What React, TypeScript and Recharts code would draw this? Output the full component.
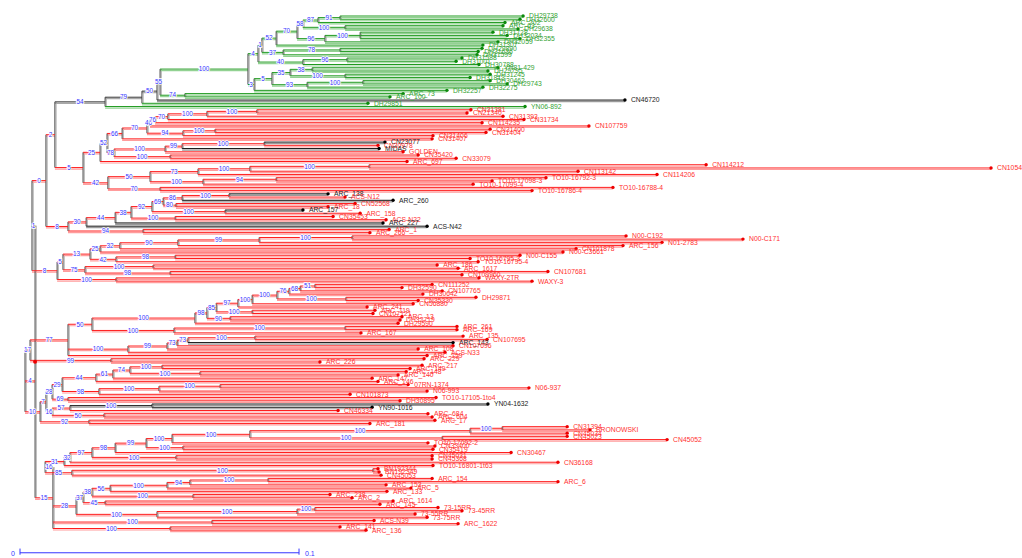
import React from 'react';
import { ComposedChart, Line, Scatter, XAxis, YAxis } from 'recharts';

// ---------------- DATA (Newick-like: label:distance-from-root) ----------------
const GREEN_CLADE = `
(
 (
  (
   (
    (
     (
      (
       (
        (
         (
          (
           (DH29738:.1803,DH32600:.1792)91:.1147,
           ARC_202:.1738
          )87:.1068,
          (ARC_63:.1731,DH29638:.1785)100:.1165
         )58:.1014,
         (
          (DH31728:.1695,DH32034:.1746,DH32355:.1792)100:.1219,
          DH32059:.1713
         )96:.1093
        )70:.0993,
        DH31307:.1659
       )52:.0918,
       (
        (DH29890:.1656,DH31636:.1642)78:.1147,
        DH31599:.1638
       )37:.0943
      )1:.0867,
      (
       (DH31588:.1584,DH31001:.1563)96:.1172,
       DH30788:.1645
      )40:.1014
     )4:.0853,
     (
      (
       (
        (YN81-429:.1713,DH29795:.1677)38:.1047,
        (DH31245:.1685,DH31813:.1613)100:.1165
       )35:.0968,
       (
        (DH30462:.1685,DH29743:.1746)100:.1229,
        DH32275:.1659
       )93:.1029
      )5:.0903,
      DH32257:.1530
     )3:.0839
    )100:.0817,
    (ARC_73:.1373,ARC_100:.1326)74:.0591
   )55:.0502,
   CN46720:.2168
  )50:.0491,
  DH29851:.1247
 )79:.0437,
 YN06-892:.1810
)54:.0305`;

const RED_CLADE_A = `
(
 (
  (
   (
    (
     (
      (
       (
        (
         (CN31381:.1616,CN21340:.1602)100:.0849,
         CN31393:.1731
        )100:.0670,
        CN31734:.1806
       )70:.0530,
       CN114235:.1656
      )76:.0484,
      CN107759:.2039
     )46:.0466,
     (
      (CN31400:.1685,CN31404:.1670)100:.0699,
      CN31406:.1480
     )94:.0584
    )70:.0455,
    CN31407:.1477
   )66:.0366,
   (
    (
     (
      (CN23077:.1308,CN30978:.1283)100:.0875,
      MIDAS:.1287
     )99:.0581,
     GOLDEN:.1373
    )100:.0520,
    (CN35420:.1427,CN33079:.1563)100:.0538
   )78:.0337
  )52:.0312,
  ARC_697:.1387
 )25:.0287,
 (
  (
   (
    (
     (CN114212:.2459,CN10543:.3480)100:.1251,
     CN113142:.2000
    )100:.0824,
    CN114206:.2283
   )73:.0638,
   (
    (TO10-16792-3:.1885,TO10-17098-3:.1692)94:.0918,
    TO10-17099-4:.1624
   )100:.0656
  )50:.0466,
  (TO10-16788-4:.2125,TO10-16786-4:.1835)70:.0502
 )42:.0315
)5:.0226`;

const RED_CLADE_B = `
(
 (
  (
   (
    (
     (
      (
       (ARC_138:.1104,ACS-N12:.1165)100:.0749,
       ARC_260:.1337
      )86:.0581,
      (CN52568:.1201,ARC_18:.1104)80:.0559
     )69:.0513,
     (ARC_157:.1014,ARC_158:.1219)100:.0735
    )92:.0473,
    (CN35453:.1122,ACS-N22:.1312)100:.0556
   )38:.0398,
   ARC_227:.1301
  )44:.0341,
  ACS-N42:.1459
 )30:.0237,
 (ARC_1:.1323,ARC_266:.1254)94:.0441
)8:.0172`;

const RED_CLADE_C = `
(
 (
  (
   (
    (
     (
      (
       (N00-C192:.2172,N00-C171:.2591)100:.1190,
       N01-2783:.2301
      )99:.0857,
      ARC_156:.2161
     )90:.0566,
     CN101878:.1993
    )32:.0358,
    N00-C3661:.1946
   )25:.0287,
   (
    (N00-C155:.1792,TO10-16795-3:.1613)98:.0556,
    TO10-16795-4:.1642
   )42:.0344
  )13:.0251,
  (
   (ARC_186:.1495,ARC_1617:.1570)100:.0477,
   (CN107681:.1892,CN109960:.1584)98:.0538
  )75:.0233
 )5:.0154,
 (WAXY-2TR:.1645,WAXY-3:.1835)100:.0344
)8:.0133`;

const RED_CLADE_D = `
(
 (
  (
   (
    (
     (
      (
       (
        (
         (
          (
           (CN111252:.1477,DH32590:.1369)51:.1057,
           CN107765:.1513
          )68:.1004,
          DH30642:.1444
         )76:.0964,
         (DH29871:.1634,CN35330:.1427)100:.1168
        )100:.0921,
        CN56880:.1409
       )100:.0832,
       ARC_241:.1244
      )97:.0781,
      (ARC_119:.1272,CN107121:.1265)100:.0832
     )85:.0703,
     (ARC_13:.1369,DH32719:.1362)90:.0753
    )98:.0670,
    DH29590:.1355
   )100:.0627,
   (
    (ARC_261:.1566,ARC_169:.1566)100:.1165,
    ARC_167:.1222
   )100:.0552
  )50:.0258,
  (
   (
    (
     (
      (ARC_135:.1588,CN107695:.1674)100:.0842,
      ARC_143:.1552
     )73:.0602,
     CN107696:.1552
    )73:.0563,
    ARC_108:.1427
   )99:.0527,
   ACS-N33:.1523
  )100:.0387,
  ARC_159:.1459
 )77:.0172,
 (ARC_229:.1448,ARC_226:.1075)99:.0326
)17:.0036`;

const RED_CLADE_E = `
(
 (
  (
   (
    (
     (
      (
       (ARC_217:.1441,ARC_149:.1398)100:.0509,
       (ARC_148:.1384,ARC_140:.1355)100:.0645
      )74:.0394,
      ARC_147:.1262
     )61:.0333,
     ARC_146:.1283
    )44:.0272,
    (
     (
      (07RN-1374:.1391,N06-937:.1824)100:.0717,
      N06-993:.1459
     )100:.0498,
     CN101873:.1183
    )98:.0283
   )29:.0151,
   (TO10-17105-1to4:.1491,DH30895:.1362)69:.0172
  )28:.0115,
  (
   (
    (YN04-1632:.1677,YN90-1016:.1262)100:.0473,
    CN46334:.1140
   )57:.0179,
   (ARC_684:.1462,ARC_604:.1477)50:.0301
  )16:.0115
 )7:.0093,
 (ARC_17:.1487,ARC_181:.1254)92:.0247
)10:.0072`;

const RED_CLADE_F = `
(
 (
  (
   (
    (
     (
      (
       (
        (
         (
          (CN31394:.1961,BRONOWSKI:.2043)100:.1728,
          CN45034:.1961
         )100:.1613,
         (CN45023:.1961,CN45052:.2319)100:.1513
        )100:.0824,
        TO10-17092-2:.1462
       )100:.0545,
       (CN33400:.1487,CN35419:.1480)100:.0584
      )99:.0452,
      CN30467:.1760
     )98:.0341,
     (CN45031:.1477,CN45368:.1477)100:.0559
    )97:.0258,
    CN36168:.1928
   )32:.0179,
   TO10-16801-1t63:.1480
  )31:.0158,
  (
   (BN192344:.1283,BN192349:.1287)100:.1265,
   CN45053:.1294
  )85:.0186
 )16:.0090,
 (
  (
   (
    (
     (
      (
       (ARC_154:.1477,ARC_6:.1928)100:.0889,
       ARC_153:.1312
      )94:.0609,
      ARC_5:.1401
     )100:.0527,
     ARC_133:.1315
    )56:.0323,
    (ARC_238:.1111,ARC_2:.1190)100:.0620
   )38:.0258,
   (ARC_1614:.1337,ARC_145:.1290)45:.0305
  )37:.0226,
  (
   (
    (73-15RR:.1498,73-45RR:.1584)100:.1057,
    73-55RR:.1416
   )100:.0993,
   73-75RR:.1459
  )100:.0491
 )28:.0201,
 (ACS-N39:.1269,ARC_1622:.1570)100:.0688,
 (ARC_141:.1147,ARC_136:.1240)100:.0538
)15:.0118
)2:.0054`;

const TREE = `((((${GREEN_CLADE},${RED_CLADE_A})2:.0125,${RED_CLADE_B})0:.0093,${RED_CLADE_C})1:.0043,(${RED_CLADE_D},${RED_CLADE_E})4:.0018,${RED_CLADE_F})`;

const BLACK_TAXA = [
  'CN46720', 'CN23077', 'MIDAS', 'ARC_138', 'ARC_260', 'ARC_157',
  'ARC_227', 'ACS-N42', 'ARC_143', 'YN04-1632', 'YN90-1016',
];

const SCALE_BAR = [0, 0.1];
const SCALE_BAR_LABELS = ['0', '0.1'];

// ---------------- constants ----------------
const W = 1022;
const H = 558;
const X_MAX = 0.3591;
const FONT = 'Liberation Sans, Arial, Helvetica, sans-serif';

type Kind = 'red' | 'green' | 'black' | 'mixed';
const PALETTE: Record<Kind, { main: string; halo: string; dot: string; text: string }> = {
  red: { main: '#ff1c1c', halo: '#ff9c9c', dot: '#ee0000', text: '#ff3030' },
  green: { main: '#1f9a1f', halo: '#92d292', dot: '#0c8a0c', text: '#35a335' },
  black: { main: '#111111', halo: '#9a9a9a', dot: '#000000', text: '#222222' },
  mixed: { main: '#333333', halo: '#a8a8a8', dot: '#000000', text: '#222222' },
};

// ---------------- parsing & layout ----------------
type TNode = {
  label: string;
  depth: number;
  children: TNode[];
  y: number;
  kind: Kind;
  kinds: Set<Kind>;
  parent: TNode | null;
};

function parseNewick(src: string): TNode {
  const s = src.replace(/\s+/g, '');
  let i = 0;
  const read = (): TNode => {
    const n: TNode = { label: '', depth: 0, children: [], y: 0, kind: 'red', kinds: new Set(), parent: null };
    if (s[i] === '(') {
      i++;
      n.children.push(read());
      while (s[i] === ',') {
        i++;
        n.children.push(read());
      }
      i++; // ')'
    }
    let lab = '';
    while (i < s.length && !':,()'.includes(s[i])) lab += s[i++];
    n.label = lab;
    if (s[i] === ':') {
      i++;
      let num = '';
      while (i < s.length && /[0-9.]/.test(s[i])) num += s[i++];
      n.depth = parseFloat(num);
    }
    return n;
  };
  return read();
}

const leafNames = (n: TNode): string[] =>
  n.children.length ? n.children.flatMap(leafNames) : [n.label];

const GREEN_SET = new Set(leafNames(parseNewick(GREEN_CLADE)));
const BLACK_SET = new Set(BLACK_TAXA);

const ROOT = parseNewick(TREE);
let leafCounter = 0;
function layout(n: TNode, parent: TNode | null) {
  n.parent = parent;
  if (!n.children.length) {
    n.y = leafCounter++;
    n.kind = BLACK_SET.has(n.label) ? 'black' : GREEN_SET.has(n.label) ? 'green' : 'red';
    n.kinds = new Set([n.kind]);
    return;
  }
  n.children.forEach((c) => layout(c, n));
  n.y = (n.children[0].y + n.children[n.children.length - 1].y) / 2;
  n.kinds = new Set(n.children.flatMap((c) => [...c.kinds]));
  if (n.kinds.size === 1) n.kind = [...n.kinds][0];
  else if (n.kinds.has('red')) n.kind = 'red';
  else n.kind = 'mixed';
}
layout(ROOT, null);

const LEAF_COUNT = leafCounter;
const BAR_ROW = LEAF_COUNT - 1 + 7;
const Y_MAX = LEAF_COUNT - 1 + 8;

type Pt = { x: number; y: number | null };
const HSEG: Record<Kind, Pt[]> = { red: [], green: [], black: [], mixed: [] };
const VSEG: Pt[] = [];
const SUPPORTS: { x: number; y: number; label: string }[] = [];
const TIPS: { x: number; y: number; name: string; kind: Kind }[] = [];

function collect(n: TNode) {
  if (n.parent) {
    HSEG[n.kind].push({ x: n.parent.depth, y: n.y }, { x: n.depth, y: n.y }, { x: n.depth, y: null });
  }
  if (n.children.length) {
    const first = n.children[0];
    const last = n.children[n.children.length - 1];
    VSEG.push({ x: n.depth, y: first.y }, { x: n.depth, y: last.y }, { x: n.depth, y: null });
    if (n.parent && n.label) {
      SUPPORTS.push({ x: (n.parent.depth + n.depth) / 2, y: n.y, label: n.label });
    }
    n.children.forEach(collect);
  } else {
    TIPS.push({ x: n.depth, y: n.y, name: n.label, kind: n.kind });
  }
}
collect(ROOT);

const ROOT_PT = [{ x: ROOT.depth, y: ROOT.y }];

const SCALE_LINE: Pt[] = [
  { x: SCALE_BAR[0], y: BAR_ROW - 1.3 },
  { x: SCALE_BAR[0], y: BAR_ROW + 0.6 },
  { x: SCALE_BAR[0], y: null },
  { x: SCALE_BAR[0], y: BAR_ROW },
  { x: SCALE_BAR[1], y: BAR_ROW },
  { x: SCALE_BAR[1], y: null },
  { x: SCALE_BAR[1], y: BAR_ROW - 1.3 },
  { x: SCALE_BAR[1], y: BAR_ROW + 0.6 },
];
const SCALE_TEXT = SCALE_BAR.map((v, i) => ({ x: v, y: BAR_ROW, label: SCALE_BAR_LABELS[i], side: i }));

// ---------------- shapes ----------------
const TipShape = (p: any) => {
  const { cx, cy, payload } = p;
  const c = PALETTE[payload.kind as Kind];
  return (
    <g>
      <circle cx={cx} cy={cy} r={1.7} fill={c.dot} />
      <text x={cx + 6} y={cy} dy="0.35em" fontSize={6.8} fill={c.text} fontFamily={FONT}>
        {payload.name}
      </text>
    </g>
  );
};

const SupportShape = (p: any) => {
  const { cx, cy, payload } = p;
  return (
    <text
      x={cx}
      y={cy}
      dy="0.35em"
      textAnchor="middle"
      fontSize={6.4}
      fill="#3434ff"
      stroke="#ffffff"
      strokeWidth={1.6}
      paintOrder="stroke"
      fontFamily={FONT}
    >
      {payload.label}
    </text>
  );
};

const RootShape = (p: any) => <circle cx={p.cx} cy={p.cy} r={2} fill="#ee0000" />;

const ScaleTextShape = (p: any) => {
  const { cx, cy, payload } = p;
  return (
    <text
      x={payload.side === 0 ? cx - 5 : cx + 6}
      y={cy}
      dy="0.5em"
      textAnchor={payload.side === 0 ? 'end' : 'start'}
      fontSize={7}
      fill="#3434ff"
      fontFamily={FONT}
    >
      {payload.label}
    </text>
  );
};

const KINDS: Kind[] = ['mixed', 'black', 'green', 'red'];

export default function App() {
  return (
    <div>
      <style>{`body{margin:0;overflow:hidden;background:#fff}
.halo-h{transform:translate(0px,1.5px)}
.halo-v{transform:translate(1.3px,0px)}`}</style>
      <ComposedChart width={W} height={H} margin={{ top: 16, right: 0, bottom: 2, left: 20 }}>
        <XAxis type="number" dataKey="x" domain={[0, X_MAX]} hide />
        <YAxis type="number" dataKey="y" domain={[0, Y_MAX]} reversed hide />
        <Line
          data={VSEG}
          dataKey="y"
          className="halo-v"
          stroke="#b8b8b8"
          strokeWidth={1}
          dot={false}
          activeDot={false}
          connectNulls={false}
          isAnimationActive={false}
          legendType="none"
        />
        {KINDS.map((k) => (
          <Line
            key={'halo' + k}
            data={HSEG[k]}
            dataKey="y"
            className="halo-h"
            stroke={PALETTE[k].halo}
            strokeWidth={1.2}
            dot={false}
            activeDot={false}
            connectNulls={false}
            isAnimationActive={false}
            legendType="none"
          />
        ))}
        <Line
          data={VSEG}
          dataKey="y"
          stroke="#444444"
          strokeWidth={1}
          dot={false}
          activeDot={false}
          connectNulls={false}
          isAnimationActive={false}
          legendType="none"
        />
        {KINDS.map((k) => (
          <Line
            key={'main' + k}
            data={HSEG[k]}
            dataKey="y"
            stroke={PALETTE[k].main}
            strokeWidth={1}
            dot={false}
            activeDot={false}
            connectNulls={false}
            isAnimationActive={false}
            legendType="none"
          />
        ))}
        <Line
          data={SCALE_LINE}
          dataKey="y"
          stroke="#3434ff"
          strokeWidth={1}
          dot={false}
          activeDot={false}
          connectNulls={false}
          isAnimationActive={false}
          legendType="none"
        />
        <Scatter data={SUPPORTS} shape={SupportShape} isAnimationActive={false} legendType="none" />
        <Scatter data={TIPS} shape={TipShape} isAnimationActive={false} legendType="none" />
        <Scatter data={ROOT_PT} shape={RootShape} isAnimationActive={false} legendType="none" />
        <Scatter data={SCALE_TEXT} shape={ScaleTextShape} isAnimationActive={false} legendType="none" />
      </ComposedChart>
    </div>
  );
}
